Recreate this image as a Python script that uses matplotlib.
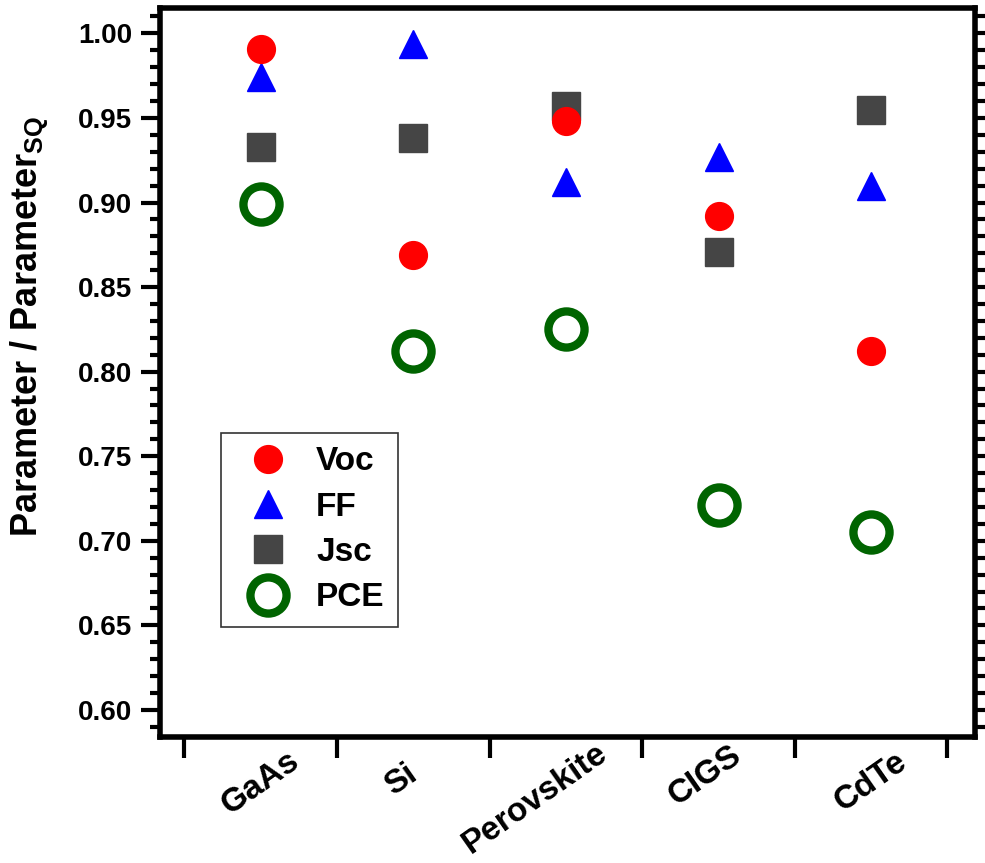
import matplotlib
matplotlib.use('Agg')
import matplotlib.pyplot as plt
from matplotlib.transforms import ScaledTranslation

plt.rcParams['font.family'] = ['Liberation Sans', 'DejaVu Sans']
plt.rcParams['font.weight'] = 'bold'
plt.rcParams['mathtext.fontset'] = 'custom'
plt.rcParams['mathtext.bf'] = 'Liberation Sans:bold'
plt.rcParams['mathtext.rm'] = 'Liberation Sans:bold'

# normalised to the Shockley-Queisser limit
cells = ['GaAs', 'Si', 'Perovskite', 'CIGS', 'CdTe']
voc = [0.991, 0.869, 0.948, 0.892, 0.812]
ff = [0.974, 0.994, 0.912, 0.927, 0.910]
jsc = [0.933, 0.938, 0.957, 0.871, 0.955]
pce = [0.899, 0.812, 0.825, 0.721, 0.705]

# hand nudges (points) for the rotated cell names
name_dx = [0, -9, -22, -10, 0]
name_dy = [0, 2, -11, 5, 1]

xpos = list(range(1, len(cells) + 1))

fig = plt.figure(figsize=(9.85, 8.63), dpi=100)
ax = fig.add_axes([0.1624, 0.146, 0.8274, 0.8447])

ax.plot(xpos, jsc, ls='none', marker='s', ms=20, color='#454545', mec='#454545', label='Jsc', zorder=3)
ax.plot(xpos, ff, ls='none', marker='^', ms=20, color='#0000ff', mec='#0000ff', label='FF', zorder=4)
ax.plot(xpos, voc, ls='none', marker='o', ms=20, color='#ff0000', mec='#ff0000', label='Voc', zorder=5)
ax.plot(xpos, pce, ls='none', marker='o', ms=26, mfc='none', mec='#006400', mew=6, label='PCE', zorder=6)

ax.set_xlim(0.34, 5.68)
ax.set_ylim(0.584, 1.015)

# boundaries between cells get the ticks, names sit in between
ax.set_xticks([x - 0.5 for x in xpos] + [xpos[-1] + 0.5])
ax.set_xticklabels([])
ax.set_xticks(xpos, cells, minor=True)
ax.tick_params(axis='x', which='major', direction='out', length=15, width=3)
ax.tick_params(axis='x', which='minor', length=0, pad=33, labelsize=24)
for lbl, dx, dy in zip(ax.get_xticklabels(minor=True), name_dx, name_dy):
    lbl.set_rotation(35)
    lbl.set_rotation_mode('anchor')
    lbl.set_ha('center')
    lbl.set_va('center')
    lbl.set_transform(lbl.get_transform() + ScaledTranslation(dx / 72, dy / 72, fig.dpi_scale_trans))

ax.set_yticks([0.60, 0.65, 0.70, 0.75, 0.80, 0.85, 0.90, 0.95, 1.00])
ax.set_yticks([v / 100 for v in range(59, 102)], minor=True)
ax.tick_params(axis='y', which='both', direction='out', left=True, right=True, width=3, labelsize=20)
ax.tick_params(axis='y', which='major', length=14, pad=6)
ax.tick_params(axis='y', which='minor', length=7)

for sp in ax.spines.values():
    sp.set_linewidth(4)

ax.set_ylabel(r'Parameter / Parameter$_{\mathbf{SQ}}$', fontsize=26, fontweight='bold')
ax.yaxis.set_label_coords(-0.16, 0.564)
ax.yaxis.label.set_va('center')

handles, labels = ax.get_legend_handles_labels()
order = [2, 1, 0, 3]
leg = ax.legend([handles[i] for i in order], [labels[i] for i in order],
                loc='upper left', bbox_to_anchor=(0.075, 0.417), borderaxespad=0,
                fontsize=24, handlelength=2.0, handletextpad=0.45, labelspacing=0.43,
                fancybox=False, framealpha=1, edgecolor='#333333')
leg.get_frame().set_linewidth(1.2)

fig.savefig('out.png', dpi=100)
